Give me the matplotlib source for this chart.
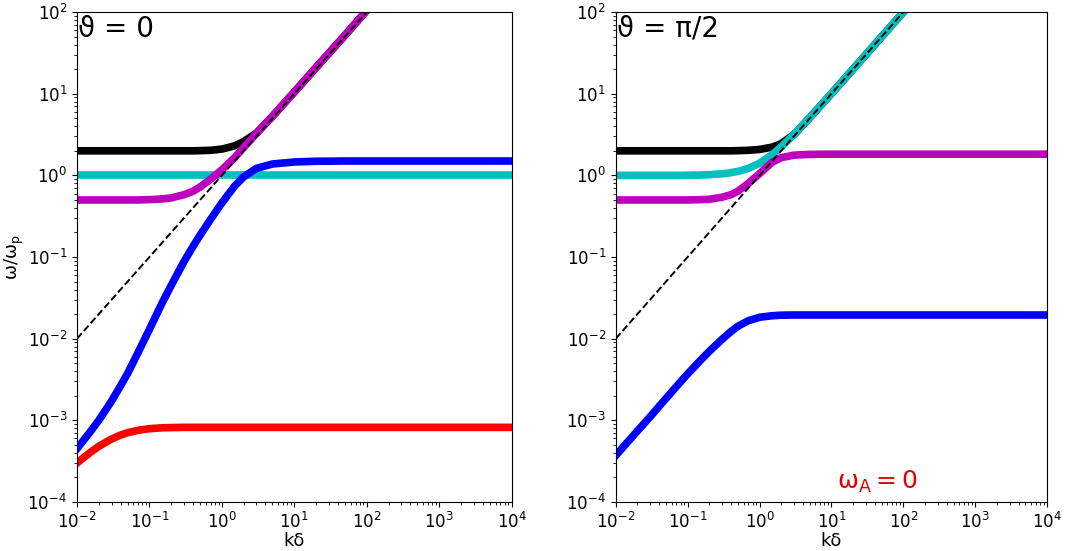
import matplotlib
matplotlib.use("Agg")
import matplotlib.pyplot as plt


# k*delta sample points shared by all branches
K = [0.01, 0.015, 0.02, 0.03, 0.04, 0.05, 0.07, 0.1, 0.15, 0.2, 0.3, 0.4, 0.5, 0.7,
     1, 1.5, 2, 3, 5, 10, 20, 50, 100, 1000, 10000]

# theta = 0 branches (omega / omega_p)
BLACK_0 = [2, 2, 2, 2, 2, 2, 2, 2, 2, 2, 2, 2, 2.01, 2.03,
           2.1, 2.3, 2.6, 3.3, 5.3, 10.5, 21, 52, 105, 1050, 10500]
CYAN_0 = [1.0, 1.0, 1.0, 1.0, 1.0, 1.0, 1.0, 1.0, 1.0, 1.0, 1.0, 1.0, 1.0, 1.0,
          1.0, 1.0, 1.0, 1.0, 1.0, 1.0, 1.0, 1.0, 1.0, 1.0, 1.0]
MAGENTA_0 = [0.5, 0.5, 0.5, 0.5, 0.5, 0.5, 0.5, 0.505, 0.515, 0.53, 0.58, 0.64, 0.72, 0.9,
             1.17, 1.65, 2.2, 3.25, 5.3, 10.5, 21, 52, 105, 1050, 10500]
BLUE_0 = [4.5e-4, 7.1e-4, 1.0e-3, 1.72e-3, 2.65e-3, 3.75e-3, 6.8e-3, 1.3e-2, 2.75e-2, 4.5e-2,
          8.8e-2, 0.135, 0.185, 0.29, 0.46, 0.74, 0.96, 1.22, 1.38, 1.46, 1.49, 1.5, 1.5, 1.5, 1.5]
RED_0 = [3.0e-4, 4.0e-4, 4.8e-4, 5.9e-4, 6.6e-4, 7.05e-4, 7.55e-4, 7.9e-4, 8.1e-4, 8.15e-4,
         8.2e-4, 8.2e-4, 8.2e-4, 8.2e-4, 8.2e-4, 8.2e-4, 8.2e-4, 8.2e-4, 8.2e-4, 8.2e-4,
         8.2e-4, 8.2e-4, 8.2e-4, 8.2e-4, 8.2e-4]

# theta = pi/2 branches
BLACK_90 = [2, 2, 2, 2, 2, 2, 2, 2, 2, 2, 2, 2, 2.01, 2.03,
            2.08, 2.22, 2.45, 3.15, 5.1, 10.05, 20, 50, 100, 1000, 10000]
CYAN_90 = [1.0, 1.0, 1.0, 1.0, 1.0, 1.0, 1.0, 1.005, 1.01, 1.02, 1.045, 1.08, 1.12, 1.22,
           1.41, 1.8, 2.24, 3.16, 5.1, 10.05, 20, 50, 100, 1000, 10000]
MAGENTA_90 = [0.5, 0.5, 0.5, 0.5, 0.5, 0.5, 0.5, 0.5, 0.505, 0.51, 0.54, 0.58, 0.64, 0.8,
              1.05, 1.45, 1.65, 1.77, 1.81, 1.82, 1.82, 1.82, 1.82, 1.82, 1.82]
BLUE_90 = [3.7e-4, 5.55e-4, 7.4e-4, 1.1e-3, 1.48e-3, 1.85e-3, 2.6e-3, 3.7e-3, 5.4e-3, 7.0e-3,
           9.8e-3, 1.22e-2, 1.42e-2, 1.66e-2, 1.83e-2, 1.91e-2, 1.94e-2, 1.95e-2, 1.95e-2,
           1.95e-2, 1.95e-2, 1.95e-2, 1.95e-2, 1.95e-2, 1.95e-2]

# light line omega = k
K_LIGHT = [0.01, 10000]
W_LIGHT = [0.01, 10000]

LW = 5.5

fig = plt.figure(figsize=(10.84, 5.51), dpi=100)
ax1 = fig.add_axes([0.071, 0.089, 0.401, 0.889])
ax2 = fig.add_axes([0.568, 0.089, 0.398, 0.889])

ax1.plot(K, BLACK_0, color="k", lw=LW)
ax1.plot(K, CYAN_0, color="c", lw=LW)
ax1.plot(K, MAGENTA_0, color="m", lw=LW)
ax1.plot(K, BLUE_0, color="b", lw=LW)
ax1.plot(K, RED_0, color="r", lw=LW)
ax1.plot(K_LIGHT, W_LIGHT, "k--", lw=1.4)

ax2.plot(K, BLACK_90, color="k", lw=LW)
ax2.plot(K, CYAN_90, color="c", lw=LW)
ax2.plot(K, MAGENTA_90, color="m", lw=LW)
ax2.plot(K, BLUE_90, color="b", lw=LW)
ax2.plot(K_LIGHT, W_LIGHT, "k--", lw=1.4)

for ax in (ax1, ax2):
    ax.set_xscale("log")
    ax.set_yscale("log")
    ax.set_xlim(1e-2, 1e4)
    ax.set_ylim(1e-4, 1e2)
    ax.tick_params(labelsize=12)
    ax.set_xlabel("kδ", fontsize=13, labelpad=0)

ax1.set_ylabel(r"$\mathregular{\omega/\omega_p}$", fontsize=13, labelpad=1)

ax1.text(0.003, 0.995, "ϑ = 0", transform=ax1.transAxes, fontsize=20,
         ha="left", va="top")
ax2.text(0.003, 0.995, "ϑ = π/2", transform=ax2.transAxes, fontsize=20,
         ha="left", va="top")
ax2.text(0.606, 0.04, r"$\mathregular{\omega_A = 0}$", transform=ax2.transAxes,
         fontsize=18, color="#e00000", ha="center", va="center")

fig.savefig("out.png", dpi=100)
